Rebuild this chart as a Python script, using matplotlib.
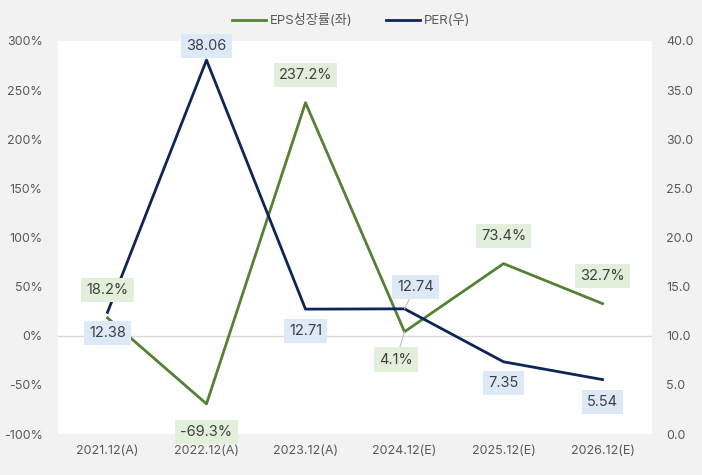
import numpy as np
import matplotlib.pyplot as plt
from matplotlib.ticker import FuncFormatter

plt.rcParams['font.family'] = ['Inter', 'Noto Sans CJK KR', 'DejaVu Sans']

categories = ['2021.12(A)', '2022.12(A)', '2023.12(A)', '2024.12(E)', '2025.12(E)', '2026.12(E)']
eps_growth = [18.2, -69.3, 237.2, 4.1, 73.4, 32.7]
per = [12.38, 38.06, 12.71, 12.74, 7.35, 5.54]
# label offsets in points (dx, dy)
eps_off = [(0, 20), (0, -20), (0, 20), (-6, -20), (0, 20), (0, 20)]
per_off = [(0, -15), (0, 10), (0, -16), (8, 16), (0, -15), (0, -16)]

green = '#548235'
navy = '#0f2459'
txt = '#595959'

fig = plt.figure(figsize=(7.02, 4.75), dpi=100)
fig.patch.set_facecolor('#f2f2f2')
ax = fig.add_axes([0.0826, 0.0863, 0.8462, 0.8274])
ax2 = ax.twinx()
x = np.arange(len(categories))

ax.axhline(0, color='#d9d9d9', lw=1, zorder=1)
l1, = ax.plot(x, eps_growth, color=green, lw=2, zorder=3, label='EPS성장률(좌)')
l2, = ax2.plot(x, per, color=navy, lw=2, zorder=3, label='PER(우)')

ax.set_xlim(-0.5, len(categories) - 0.5)
ax.set_ylim(-100, 300)
ax.set_yticks(np.arange(-100, 301, 50))
ax.yaxis.set_major_formatter(FuncFormatter(lambda v, p: f'{v:.0f}%'))
ax2.set_ylim(0, 40)
ax2.set_yticks(np.arange(0, 40.1, 5))
ax2.yaxis.set_major_formatter(FuncFormatter(lambda v, p: f'{v:.1f}'))
ax.set_xticks(x)
ax.set_xticklabels(categories)

for a in (ax, ax2):
    for s in a.spines.values():
        s.set_visible(False)
    a.tick_params(length=0, labelsize=9, colors=txt)
ax.tick_params(axis='y', pad=11)
ax2.tick_params(axis='y', pad=10)
ax.tick_params(axis='x', pad=8)
ax.set_facecolor('white')
ax.set_zorder(ax2.get_zorder() - 1)
ax2.patch.set_visible(False)

# data labels (all drawn on ax2 so they sit above both lines)
for xi, v, (dx, dy) in zip(x, eps_growth, eps_off):
    ax2.annotate(f'{v:.1f}%', (xi, v), xycoords=ax.transData, xytext=(dx, dy),
                 textcoords='offset points', ha='center', va='center', fontsize=10.5,
                 color='#404040', zorder=5,
                 bbox=dict(boxstyle='square,pad=0.35', fc='#e2efda', ec='none'),
                 arrowprops=dict(arrowstyle='-', color='#bfbfbf', lw=0.8, shrinkA=0, shrinkB=0)
                 if dx else None,
                 annotation_clip=False)
for xi, v, (dx, dy) in zip(x, per, per_off):
    ax2.annotate(f'{v:.2f}', (xi, v), xytext=(dx, dy), textcoords='offset points',
                 ha='center', va='center', fontsize=10.5, color='#404040', zorder=5,
                 bbox=dict(boxstyle='square,pad=0.35', fc='#dde9f7', ec='none'),
                 arrowprops=dict(arrowstyle='-', color='#bfbfbf', lw=0.8, shrinkA=0, shrinkB=0)
                 if dx else None,
                 annotation_clip=False)

fig.legend(handles=[l1, l2], loc='upper center', bbox_to_anchor=(0.5, 0.995), ncol=2,
           frameon=False, fontsize=9.5, labelcolor=txt, handlelength=2.6, columnspacing=2.5,
           handletextpad=0.3)

fig.savefig('out.png', dpi=100, facecolor=fig.get_facecolor())
